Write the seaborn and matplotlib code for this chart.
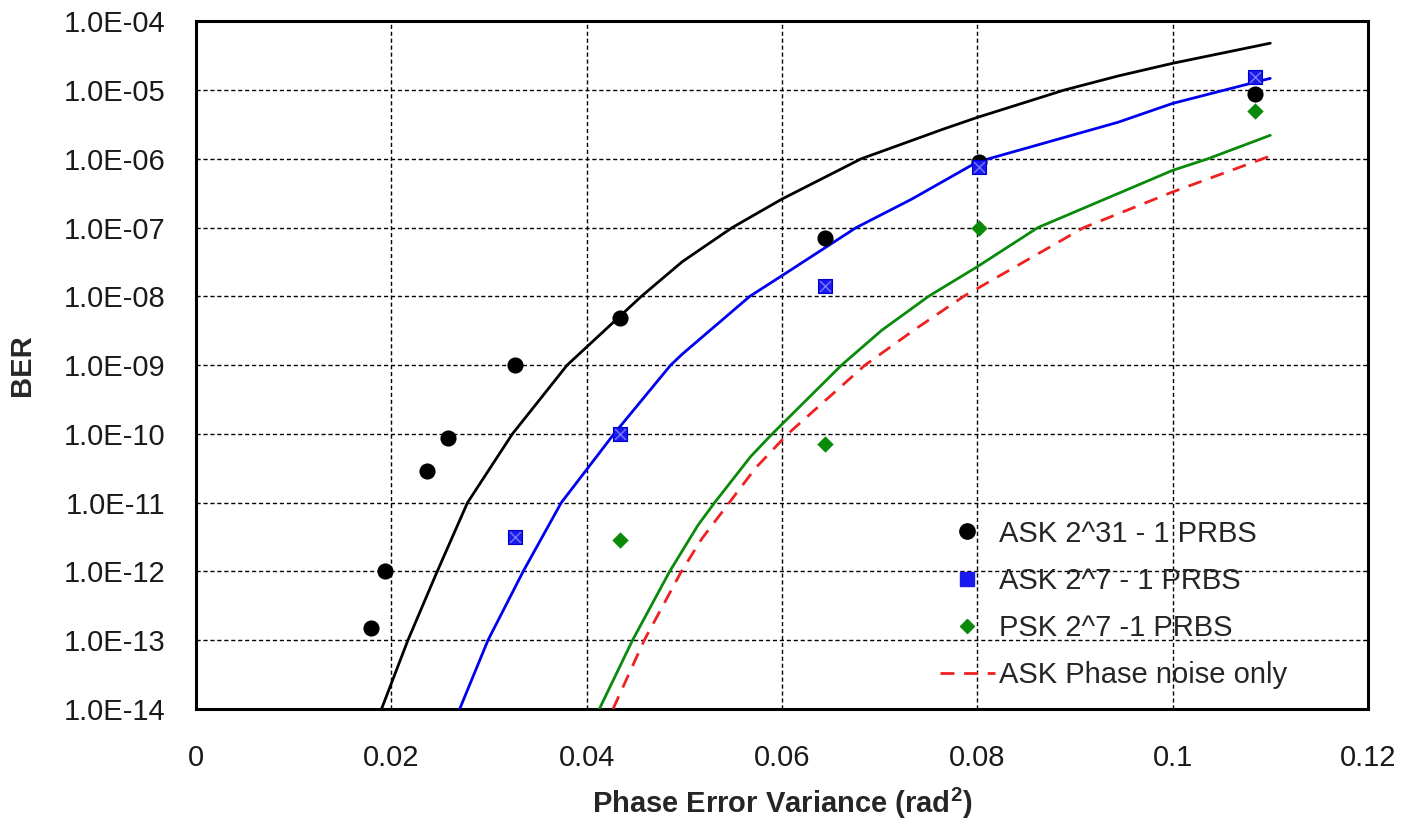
import matplotlib
matplotlib.use("Agg")
import matplotlib.pyplot as plt
from matplotlib.lines import Line2D
import seaborn as sns
import pandas as pd
import numpy as np

# ---- measured data ----
ask31_x = [0.0179, 0.0194, 0.0237, 0.0258, 0.0327, 0.0434, 0.0644, 0.0802, 0.1084]
ask31_y = [1.5e-13, 1.0e-12, 2.9e-11, 8.8e-11, 1.0e-9, 4.9e-9, 7.0e-8, 9.1e-7, 8.9e-6]

ask7_x = [0.0327, 0.0434, 0.0644, 0.0802, 0.1084]
ask7_y = [3.2e-12, 1.0e-10, 1.4e-8, 7.7e-7, 1.57e-5]

psk7_x = [0.0434, 0.0644, 0.0802, 0.1084]
psk7_y = [2.9e-12, 7.2e-11, 1.0e-7, 4.9e-6]

# model curves
fit31_x = [0.0190, 0.0217, 0.0247, 0.0278, 0.0324, 0.0380, 0.0456, 0.0498, 0.0549,
           0.0600, 0.0681, 0.0765, 0.0800, 0.0889, 0.0944, 0.1000, 0.1100]
fit31_y = [1e-14, 1e-13, 1e-12, 1e-11, 1e-10, 1e-9, 1e-8, 3.2e-8, 1e-7,
           2.6e-7, 1e-6, 2.7e-6, 4e-6, 1e-5, 1.6e-5, 2.45e-5, 4.8e-5]

fit7_x = [0.0270, 0.0299, 0.0335, 0.0374, 0.0428, 0.0486, 0.0498, 0.0567, 0.0600, 0.0676,
          0.0733, 0.0800, 0.0944, 0.1000, 0.1100]
fit7_y = [1e-14, 1e-13, 1e-12, 1e-11, 1e-10, 1e-9, 1.45e-9, 1e-8, 2e-8, 1e-7,
          2.6e-7, 9e-7, 3.4e-6, 6.4e-6, 1.48e-5]

fitpsk_x = [0.0413, 0.0447, 0.0485, 0.0514, 0.0531, 0.0568, 0.0590, 0.0661, 0.0702, 0.0750,
            0.0800, 0.0862, 0.1000, 0.1036, 0.1100]
fitpsk_y = [1e-14, 1e-13, 1e-12, 4.7e-12, 1e-11, 4.7e-11, 1e-10, 1e-9, 3.2e-9, 1e-8,
            2.7e-8, 1e-7, 6.8e-7, 1e-6, 2.2e-6]

phase_x = [0.0427, 0.0459, 0.0497, 0.0518, 0.0546, 0.0573, 0.0606, 0.0685, 0.0736, 0.0786,
           0.0909, 0.1000, 0.1100]
phase_y = [1e-14, 1e-13, 1e-12, 3.0e-12, 1e-11, 3.2e-11, 1e-10, 1e-9, 3.3e-9, 1e-8,
           1e-7, 3.3e-7, 1.1e-6]

x_ticks = [0, 0.02, 0.04, 0.06, 0.08, 0.1, 0.12]
x_ticklabels = ["0", "0.02", "0.04", "0.06", "0.08", "0.1", "0.12"]
y_exps = list(range(-14, -3))
y_ticklabels = ["1.0E-%02d" % (-e) for e in y_exps]

legend_labels = ["ASK 2^31 - 1 PRBS", "ASK 2^7 - 1 PRBS", "PSK 2^7 -1 PRBS", "ASK Phase noise only"]

# ---- plotting ----
sns.set_theme(style="white")
plt.rcParams['font.family'] = ['Liberation Sans', 'DejaVu Sans']

fig = plt.figure(figsize=(14.18, 8.19), dpi=100)
ax = fig.add_axes([0.1382, 0.1343, 0.8265, 0.8397])

ax.set_yscale("log")
ax.set_xlim(0, 0.12)
ax.set_ylim(1e-14, 1e-4)

lw = 2.0
blue = "#0000f0"
green = "#0a8a0a"
red = "#f02020"
dash = (0, (5, 3.5))
sns.lineplot(x=fit31_x, y=fit31_y, ax=ax, color="black", linewidth=lw, sort=False, zorder=3)
sns.lineplot(x=fit7_x, y=fit7_y, ax=ax, color=blue, linewidth=lw, sort=False, zorder=3)
sns.lineplot(x=fitpsk_x, y=fitpsk_y, ax=ax, color=green, linewidth=lw, sort=False, zorder=3)
sns.lineplot(x=phase_x, y=phase_y, ax=ax, color=red, linewidth=lw, sort=False, zorder=3,
             linestyle=dash)

sns.scatterplot(x=ask31_x, y=ask31_y, ax=ax, color="black", marker="o", s=135,
                edgecolor="black", linewidth=0, zorder=5)
sns.scatterplot(x=ask7_x, y=ask7_y, ax=ax, color="#1a1aee", marker="s", s=110,
                edgecolor="#0000cc", linewidth=0.8, zorder=5)
sns.scatterplot(x=ask7_x, y=ask7_y, ax=ax, color="#7a7aff", marker="x", s=60,
                linewidth=1.0, zorder=6)
sns.scatterplot(x=psk7_x, y=psk7_y, ax=ax, color=green, marker="D", s=70,
                edgecolor=green, linewidth=0, zorder=5)

ax.set_xticks(x_ticks)
ax.set_xticklabels(x_ticklabels)
ax.set_yticks([10.0 ** e for e in y_exps])
ax.set_yticklabels(y_ticklabels)
ax.yaxis.set_minor_locator(matplotlib.ticker.NullLocator())

ax.grid(True, which="major", color="black", linestyle=(0, (3, 2)), linewidth=1.0)
for s in ax.spines.values():
    s.set_color("black")
    s.set_linewidth(2.2)
    s.set_visible(True)

ax.tick_params(axis="both", which="major", direction="inout", length=12, width=1.5,
               color="black", labelsize=21, labelcolor="#1a1a1a")
ax.tick_params(axis="x", pad=19)
ax.tick_params(axis="y", pad=16)

ax.set_xlabel("Phase Error Variance (rad$^\\mathregular{2}$)", fontsize=21, fontweight="bold",
              labelpad=10)
ax.set_ylabel("BER", fontsize=21, fontweight="bold", labelpad=20)

handles = [
    Line2D([], [], linestyle="none", marker="o", markersize=11, color="black"),
    Line2D([], [], linestyle="none", marker="s", markersize=10, color="#1a1aee"),
    Line2D([], [], linestyle="none", marker="D", markersize=7.5, color=green),
    Line2D([], [], color=red, linewidth=lw, linestyle=dash),
]
leg = ax.legend(handles, legend_labels, loc="center", bbox_to_anchor=(0.783, 0.152),
                frameon=False, fontsize=21, handlelength=1.9, handletextpad=0.15,
                labelspacing=0.66)

fig.savefig("out.png", dpi=100)
